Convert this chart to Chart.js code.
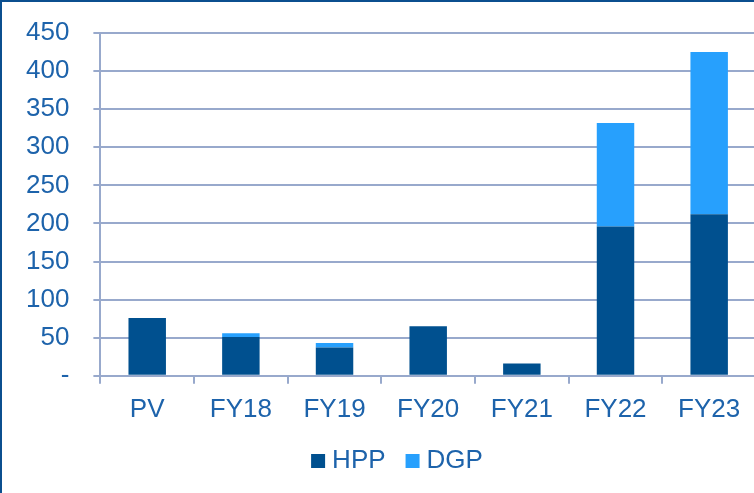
<!DOCTYPE html>
<html>
<head>
<meta charset="utf-8">
<script src="https://cdn.jsdelivr.net/npm/chart.js@4"></script>
<style>
  html, body { margin: 0; padding: 0; background: #fff; overflow: hidden; }
  #wrap { position: relative; width: 754px; height: 493px; overflow: hidden; }
  #wrap canvas { position: absolute; left: 0; top: 0; }
  #frame { position: absolute; left: 0; top: 0; width: 754px; height: 493px;
           border-left: 2px solid #0b4f8f; border-top: 2px solid #0b4f8f;
           box-sizing: border-box; pointer-events: none; }
</style>
</head>
<body>
<div id="wrap">
  <canvas id="chart" width="794" height="493"></canvas>
  <div id="frame"></div>
</div>
<script>
const categories = ["PV", "FY18", "FY19", "FY20", "FY21", "FY22", "FY23"]
const hppValues = [76, 51, 37, 65, 16, 196, 212]
const dgpValues = [0, 5, 6, 0, 0, 136, 213]
const yTicks = [0, 50, 100, 150, 200, 250, 300, 350, 400, 450]

const textColor = "#1d63ab"
const gridColor = "#98a9cc"
const fontFamily = "'Liberation Sans', Arial, sans-serif"
const font = { family: fontFamily, size: 26 }

// small legend drawn by hand so the gap between swatch and text matches
const bottomLegend = {
    id: "bottomLegend",
    afterDraw(chart) {
        const c = chart.ctx
        const box = 14, gap = 7, itemGap = 20, centerX = 397, centerY = 461
        c.save()
        c.font = `${font.size}px ${fontFamily}`
        c.textBaseline = "middle"
        const items = chart.data.datasets.map(ds => ({ text: ds.label, color: ds.backgroundColor, w: c.measureText(ds.label).width }))
        let total = items.reduce((s, it) => s + box + gap + it.w, 0) + itemGap * (items.length - 1)
        let x = centerX - total / 2
        items.forEach(it => {
            c.fillStyle = it.color
            c.fillRect(x, centerY - box / 2, box, box)
            c.fillStyle = textColor
            c.fillText(it.text, x + box + gap, centerY)
            x += box + gap + it.w + itemGap
        })
        c.restore()
    }
}

const ctx = document.getElementById("chart")

new Chart(ctx, {
    type: "bar",
    data: {
        labels: categories,
        datasets: [
            { label: "HPP", data: hppValues, backgroundColor: "#00508f", borderWidth: 0 },
            { label: "DGP", data: dgpValues, backgroundColor: "#27a0fd", borderWidth: 0 }
        ]
    },
    options: {
        responsive: false,
        animation: false,
        layout: { padding: { left: 2, right: 38, top: 33, bottom: 58 } },
        datasets: { bar: { categoryPercentage: 1, barPercentage: 0.4 } },
        scales: {
            x: {
                stacked: true,
                grid: { display: true, drawOnChartArea: false, drawTicks: true, tickLength: 8, color: gridColor, lineWidth: 2 },
                border: { display: true, color: gridColor, width: 2 },
                ticks: { color: textColor, font: font, padding: 10 }
            },
            y: {
                stacked: true,
                min: 0,
                max: 450,
                afterBuildTicks: axis => { axis.ticks = yTicks.map(v => ({ value: v })) },
                afterFit: axis => { axis.paddingTop = 0; axis.paddingBottom = 0 },
                grid: { color: gridColor, lineWidth: 2, tickLength: 7 },
                border: { display: true, color: gridColor, width: 2 },
                ticks: {
                    color: textColor,
                    font: font,
                    padding: 24,
                    callback: v => v === 0 ? "-" : v
                }
            }
        },
        plugins: {
            legend: { display: false },
            tooltip: { enabled: false }
        }
    },
    plugins: [bottomLegend]
})
</script>
</body>
</html>
